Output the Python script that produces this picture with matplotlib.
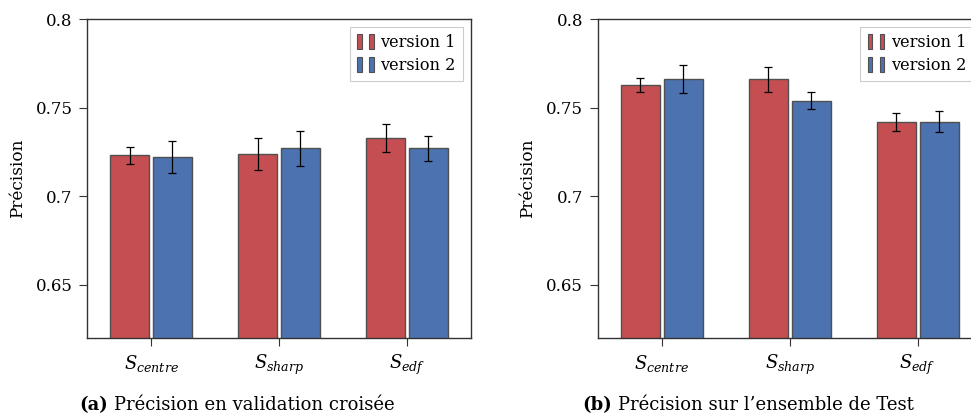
import matplotlib
matplotlib.use("Agg")
import matplotlib.pyplot as plt
from matplotlib.patches import Rectangle
from matplotlib.legend_handler import HandlerBase
import numpy as np

plt.rcParams['font.family'] = ['DejaVu Serif']
plt.rcParams['mathtext.fontset'] = 'dejavuserif'

categories = [r'$S_{centre}$', r'$S_{sharp}$', r'$S_{edf}$']
series_names = ['version 1', 'version 2']

# (a) validation croisée
cv_v1 = [0.723, 0.724, 0.733]
cv_v1_err = [0.005, 0.009, 0.008]
cv_v2 = [0.722, 0.727, 0.727]
cv_v2_err = [0.009, 0.010, 0.007]

# (b) ensemble de test
test_v1 = [0.763, 0.766, 0.742]
test_v1_err = [0.004, 0.007, 0.005]
test_v2 = [0.766, 0.754, 0.742]
test_v2_err = [0.008, 0.005, 0.006]

captions = [('(a)', 'Précision en validation croisée'),
            ('(b)', "Précision sur l’ensemble de Test")]

red = '#c44e52'
blue = '#4c72b0'
edge = '#505050'


class TwoBars(HandlerBase):
    # pgfplots-like legend entry: two small bars
    def create_artists(self, legend, orig, xd, yd, w, h, fontsize, trans):
        fc = orig.patches[0].get_facecolor()
        bw = w * 0.27
        r1 = Rectangle((xd, yd - h * 0.15), bw, h * 1.3, facecolor=fc,
                       edgecolor=edge, lw=0.8, transform=trans)
        r2 = Rectangle((xd + w * 0.68, yd - h * 0.15), bw, h * 1.3, facecolor=fc,
                       edgecolor=edge, lw=0.8, transform=trans)
        return [r1, r2]


fig = plt.figure(figsize=(9.71, 4.2), dpi=100)
ax1 = fig.add_axes([0.0896, 0.1952, 0.3955, 0.7595])
ax2 = fig.add_axes([0.6155, 0.1952, 0.3955, 0.7595])

x = np.arange(len(categories))
width = 0.305
off = 0.167

panels = [(ax1, cv_v1, cv_v1_err, cv_v2, cv_v2_err),
          (ax2, test_v1, test_v1_err, test_v2, test_v2_err)]

for ax, v1, e1, v2, e2 in panels:
    b1 = ax.bar(x - off, v1, width, color=red, edgecolor=edge, linewidth=1.0,
                label=series_names[0], zorder=2)
    b2 = ax.bar(x + off, v2, width, color=blue, edgecolor=edge, linewidth=1.0,
                label=series_names[1], zorder=2)
    ax.errorbar(x - off, v1, yerr=e1, fmt='none', ecolor='black', elinewidth=0.9,
                capsize=3, capthick=0.9, zorder=3)
    ax.errorbar(x + off, v2, yerr=e2, fmt='none', ecolor='black', elinewidth=0.9,
                capsize=3, capthick=0.9, zorder=3)
    ax.set_xlim(-0.5, 2.5)
    ax.set_ylim(0.62, 0.8)
    ax.set_yticks([0.65, 0.7, 0.75, 0.8])
    ax.set_yticklabels(['0.65', '0.7', '0.75', '0.8'])
    ax.set_xticks(x)
    ax.set_xticklabels(categories, fontsize=13)
    ax.tick_params(axis='y', labelsize=12, length=5.5, width=0.8, pad=5, color='#333333')
    ax.tick_params(axis='x', length=5.5, width=0.8, pad=5, color='#333333')
    for s in ax.spines.values():
        s.set_color('#333333')
        s.set_linewidth(1.0)
    ax.set_ylabel('Précision', fontsize=12.2, labelpad=7)
    leg = ax.legend(handles=[b1, b2], handler_map={b1: TwoBars(), b2: TwoBars()},
                    loc='upper right', fontsize=11.6, frameon=True, fancybox=False,
                    framealpha=1, edgecolor='#cccccc', handlelength=1.1,
                    handletextpad=0.35, borderpad=0.45, labelspacing=0.35,
                    borderaxespad=0.5)
    leg.get_frame().set_linewidth(0.8)

cap_pos = [(108, 114), (612, 618)]
for (bold, rest), (xb, xr) in zip(captions, cap_pos):
    fig.text(xb / 971, 1 - 405 / 420, bold, fontsize=13, fontweight='bold',
             ha='right', va='center')
    fig.text(xr / 971, 1 - 405 / 420, rest, fontsize=13, ha='left', va='center')

fig.savefig('out.png', dpi=100)
